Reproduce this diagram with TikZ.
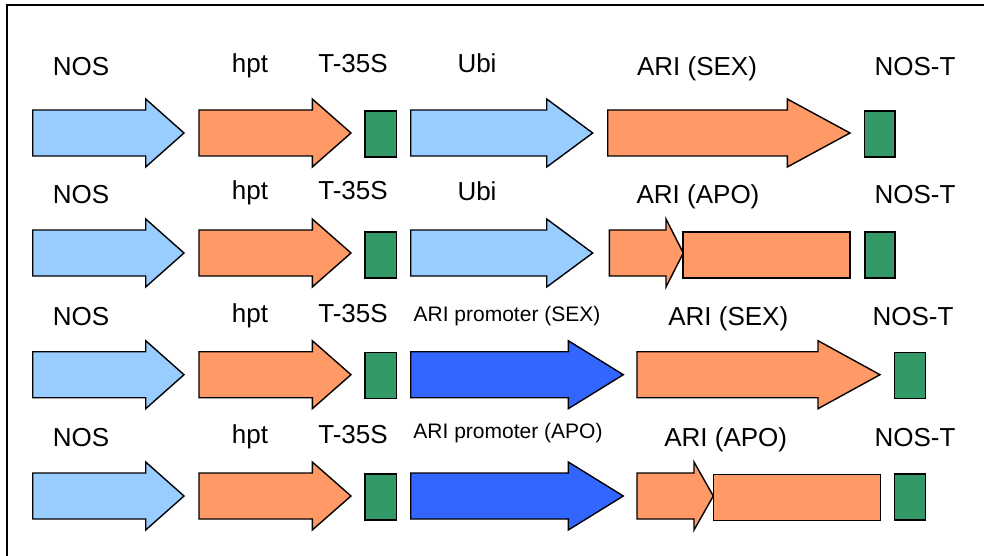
\documentclass[tikz,border=0pt]{standalone}
\usepackage{fontspec}
\setmainfont{Liberation Sans}
\definecolor{lblue}{HTML}{99CCFF}
\definecolor{orng}{HTML}{FF9966}
\definecolor{grn}{HTML}{339966}
\definecolor{dblue}{HTML}{3366FF}
\tikzset{
  shp/.style={draw=black, line width=1.4pt, line join=miter},
  lbl/.style={anchor=base, inner sep=0pt, font=\fontsize{26}{30}\selectfont},
  slbl/.style={anchor=base, inner sep=0pt, font=\fontsize{21}{25}\selectfont},
  frame/.style={draw=black, line width=2pt}
}
% #1 x start, #2 x head start, #3 x tip, #4 y centre, #5 colour
\newcommand\garr[5]{%
  \draw[shp, fill=#5] ({#1},{#4-23}) -- ({#2},{#4-23}) -- ({#2},{#4-34}) -- ({#3},{#4})
    -- ({#2},{#4+34}) -- ({#2},{#4+23}) -- ({#1},{#4+23}) -- cycle;}
% #1 x left, #2 x right, #3 y centre, #4 colour
\newcommand\gbox[4]{%
  \draw[shp, fill=#4] ({#1},{#3-23}) rectangle ({#2},{#3+23});}
\begin{document}
\begin{tikzpicture}[x=1pt,y=-1pt]
\useasboundingbox (0,0) rectangle (984,556);
\fill[white] (0,0) rectangle (984,556);
\draw[frame] (7.3,560) -- (7.3,5) -- (990,5);

% Row 1
\garr{32.7}{145.7}{184}{133}{lblue}
\garr{199}{312.3}{351}{133}{orng}
\gbox{365}{396.7}{134}{grn}
\garr{410.7}{546.7}{592.7}{133}{lblue}
\garr{607.7}{787.3}{850}{133}{orng}
\gbox{864.7}{895}{134}{grn}
\node[lbl] (r1nos) at (81,76) {NOS};
\node[lbl] (r1hpt) at (250,72.7) {hpt};
\node[lbl] (r1t35) at (353,72.7) {T-35S};
\node[lbl] (r1ubi) at (477,72.7) {Ubi};
\node[lbl] (r1ari) at (697,76) {ARI (SEX)};
\node[lbl] (r1nost) at (915,76) {NOS-T};

% Row 2
\garr{32.7}{145.7}{184}{253}{lblue}
\garr{199}{312.3}{351}{253}{orng}
\gbox{365}{396.7}{255}{grn}
\garr{410.7}{546.7}{592.7}{253}{lblue}
\garr{609.3}{666}{683.3}{253}{orng}
\gbox{683}{850}{255}{orng}
\gbox{865}{895}{255}{grn}
\node[lbl] (r2nos) at (81,203) {NOS};
\node[lbl] (r2hpt) at (250,200) {hpt};
\node[lbl] (r2t35) at (353,200) {T-35S};
\node[lbl] (r2ubi) at (477,200.7) {Ubi};
\node[lbl] (r2ari) at (698,203) {ARI (APO)};
\node[lbl] (r2nost) at (915,203) {NOS-T};

% Row 3
\garr{32.7}{145.7}{184}{374.7}{lblue}
\garr{199}{312.3}{351}{374.7}{orng}
\gbox{365}{396.7}{375.5}{grn}
\garr{410.7}{568.3}{623.3}{374.7}{dblue}
\garr{637}{818}{880}{374.7}{orng}
\gbox{894.5}{925.5}{375.5}{grn}
\node[lbl] (r3nos) at (81,325.7) {NOS};
\node[lbl] (r3hpt) at (250,322.7) {hpt};
\node[lbl] (r3t35) at (353,322.7) {T-35S};
\node[slbl] (r3prom) at (507,321.7) {ARI promoter (SEX)};
\node[lbl] (r3ari) at (728.3,325.7) {ARI (SEX)};
\node[lbl] (r3nost) at (913,325.7) {NOS-T};

% Row 4
\garr{32.7}{145.7}{184}{496}{lblue}
\garr{199}{312.3}{351}{496}{orng}
\gbox{365}{396.7}{497}{grn}
\garr{410.7}{568.3}{623.3}{496}{dblue}
\garr{637}{694}{713.3}{496}{orng}
\gbox{713.3}{880.7}{497.5}{orng}
\gbox{894.7}{925.7}{497}{grn}
\node[lbl] (r4nos) at (81,446) {NOS};
\node[lbl] (r4hpt) at (250,443.3) {hpt};
\node[lbl] (r4t35) at (353,443.3) {T-35S};
\node[slbl] (r4prom) at (508,438.5) {ARI promoter (APO)};
\node[lbl] (r4ari) at (725.7,446) {ARI (APO)};
\node[lbl] (r4nost) at (915,446) {NOS-T};
\end{tikzpicture}
\end{document}
